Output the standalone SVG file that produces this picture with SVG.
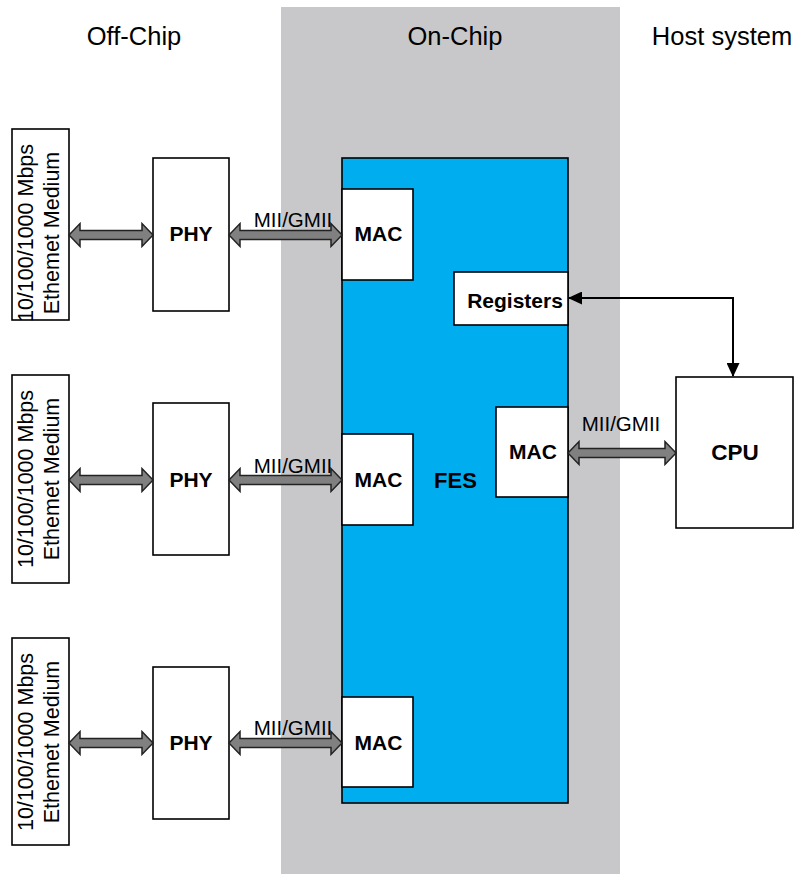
<svg xmlns="http://www.w3.org/2000/svg" width="795" height="874" viewBox="0 0 795 874">
<style>
.box{fill:#fff;stroke:#000;stroke-width:1.6}
.hdr{font-family:"Liberation Sans",Arial,sans-serif;font-size:25.5px;fill:#000;text-anchor:middle}
.lbl{font-family:"Liberation Sans",Arial,sans-serif;font-size:20.5px;fill:#000;text-anchor:middle}
.bold{font-family:"Liberation Sans",Arial,sans-serif;font-size:21px;font-weight:bold;fill:#000;text-anchor:middle}
.med{font-family:"Liberation Sans",Arial,sans-serif;font-size:21.5px;fill:#000;text-anchor:middle}
.fat{fill:#808080;stroke:#222;stroke-width:1.5;stroke-linejoin:miter}
.thin{fill:none;stroke:#000;stroke-width:2}
</style>
<defs>
<marker id="ah" viewBox="0 0 14 13" refX="13" refY="6.5" markerWidth="14" markerHeight="13" markerUnits="userSpaceOnUse" orient="auto-start-reverse">
<path d="M0,0 L14,6.5 L0,13 Z" fill="#000"/>
</marker>
</defs>
<rect width="795" height="874" fill="#fff"/>
<g id="zones">
<rect x="281" y="7" width="339" height="867" fill="#C8C8CA"/>
<text class="hdr" x="134" y="45">Off-Chip</text>
<text class="hdr" x="455" y="45">On-Chip</text>
<text class="hdr" x="722" y="45">Host system</text>
</g>
<g id="fes">
<rect x="342" y="158" width="226" height="645" fill="#00AEEF" stroke="#000" stroke-width="1.6"/>
<text class="bold" x="455.5" y="488" style="font-size:22px">FES</text>
</g>
<g id="medium1">
<rect class="box" x="12" y="129" width="57" height="191"/>
<text class="med" transform="translate(33,233) rotate(-90)">10/100/1000 Mbps</text>
<text class="med" transform="translate(59,233) rotate(-90)">Ethemet Medium</text>
</g>
<g id="medium2">
<rect class="box" x="12" y="375" width="57" height="208"/>
<text class="med" transform="translate(33,479) rotate(-90)">10/100/1000 Mbps</text>
<text class="med" transform="translate(59,479) rotate(-90)">Ethemet Medium</text>
</g>
<g id="medium3">
<rect class="box" x="12" y="638" width="57" height="207"/>
<text class="med" transform="translate(33,742) rotate(-90)">10/100/1000 Mbps</text>
<text class="med" transform="translate(59,742) rotate(-90)">Ethemet Medium</text>
</g>
<g id="phy1">
<rect class="box" x="153" y="158" width="76" height="153"/>
<text class="bold" x="191" y="241">PHY</text>
</g>
<g id="phy2">
<rect class="box" x="153" y="403" width="76" height="152"/>
<text class="bold" x="191" y="487">PHY</text>
</g>
<g id="phy3">
<rect class="box" x="153" y="667" width="76" height="152"/>
<text class="bold" x="191" y="750">PHY</text>
</g>
<g id="mac1">
<rect class="box" x="342" y="189" width="71" height="91"/>
<text class="bold" x="378.5" y="241">MAC</text>
</g>
<g id="mac2">
<rect class="box" x="342" y="434" width="71" height="91"/>
<text class="bold" x="378.5" y="487">MAC</text>
</g>
<g id="mac3">
<rect class="box" x="342" y="697" width="71" height="90"/>
<text class="bold" x="378.5" y="750">MAC</text>
</g>
<g id="registers">
<rect class="box" x="454" y="272" width="114" height="53"/>
<text class="bold" x="515" y="308">Registers</text>
</g>
<g id="mac-host">
<rect class="box" x="496" y="407" width="72" height="90"/>
<text class="bold" x="533" y="459">MAC</text>
</g>
<g id="cpu">
<rect class="box" x="676" y="377" width="117" height="151"/>
<text class="bold" x="735" y="460" style="font-size:22.5px">CPU</text>
</g>
<g id="connectors">
<path class="fat" d="M69,235 L80,223.5 L80,230.5 L142,230.5 L142,223.5 L153,235 L142,246.5 L142,239.5 L80,239.5 L80,246.5 Z"/>
<path class="fat" d="M229,235 L240,223.5 L240,230.5 L331,230.5 L331,223.5 L342,235 L331,246.5 L331,239.5 L240,239.5 L240,246.5 Z"/>
<text class="lbl" x="293" y="227">MII/GMII</text>
<path class="fat" d="M69,480 L80,468.5 L80,475.5 L142,475.5 L142,468.5 L153,480 L142,491.5 L142,484.5 L80,484.5 L80,491.5 Z"/>
<path class="fat" d="M229,480 L240,468.5 L240,475.5 L331,475.5 L331,468.5 L342,480 L331,491.5 L331,484.5 L240,484.5 L240,491.5 Z"/>
<text class="lbl" x="293" y="473">MII/GMII</text>
<path class="fat" d="M69,743 L80,731.5 L80,738.5 L142,738.5 L142,731.5 L153,743 L142,754.5 L142,747.5 L80,747.5 L80,754.5 Z"/>
<path class="fat" d="M229,743 L240,731.5 L240,738.5 L331,738.5 L331,731.5 L342,743 L331,754.5 L331,747.5 L240,747.5 L240,754.5 Z"/>
<text class="lbl" x="293" y="735">MII/GMII</text>
<path class="fat" d="M568,453 L579,441.5 L579,448.5 L665,448.5 L665,441.5 L676,453 L665,464.5 L665,457.5 L579,457.5 L579,464.5 Z"/>
<text class="lbl" x="621" y="431">MII/GMII</text>
<path class="thin" d="M569,298 H733 V376" marker-start="url(#ah)" marker-end="url(#ah)"/>
</g>
</svg>
